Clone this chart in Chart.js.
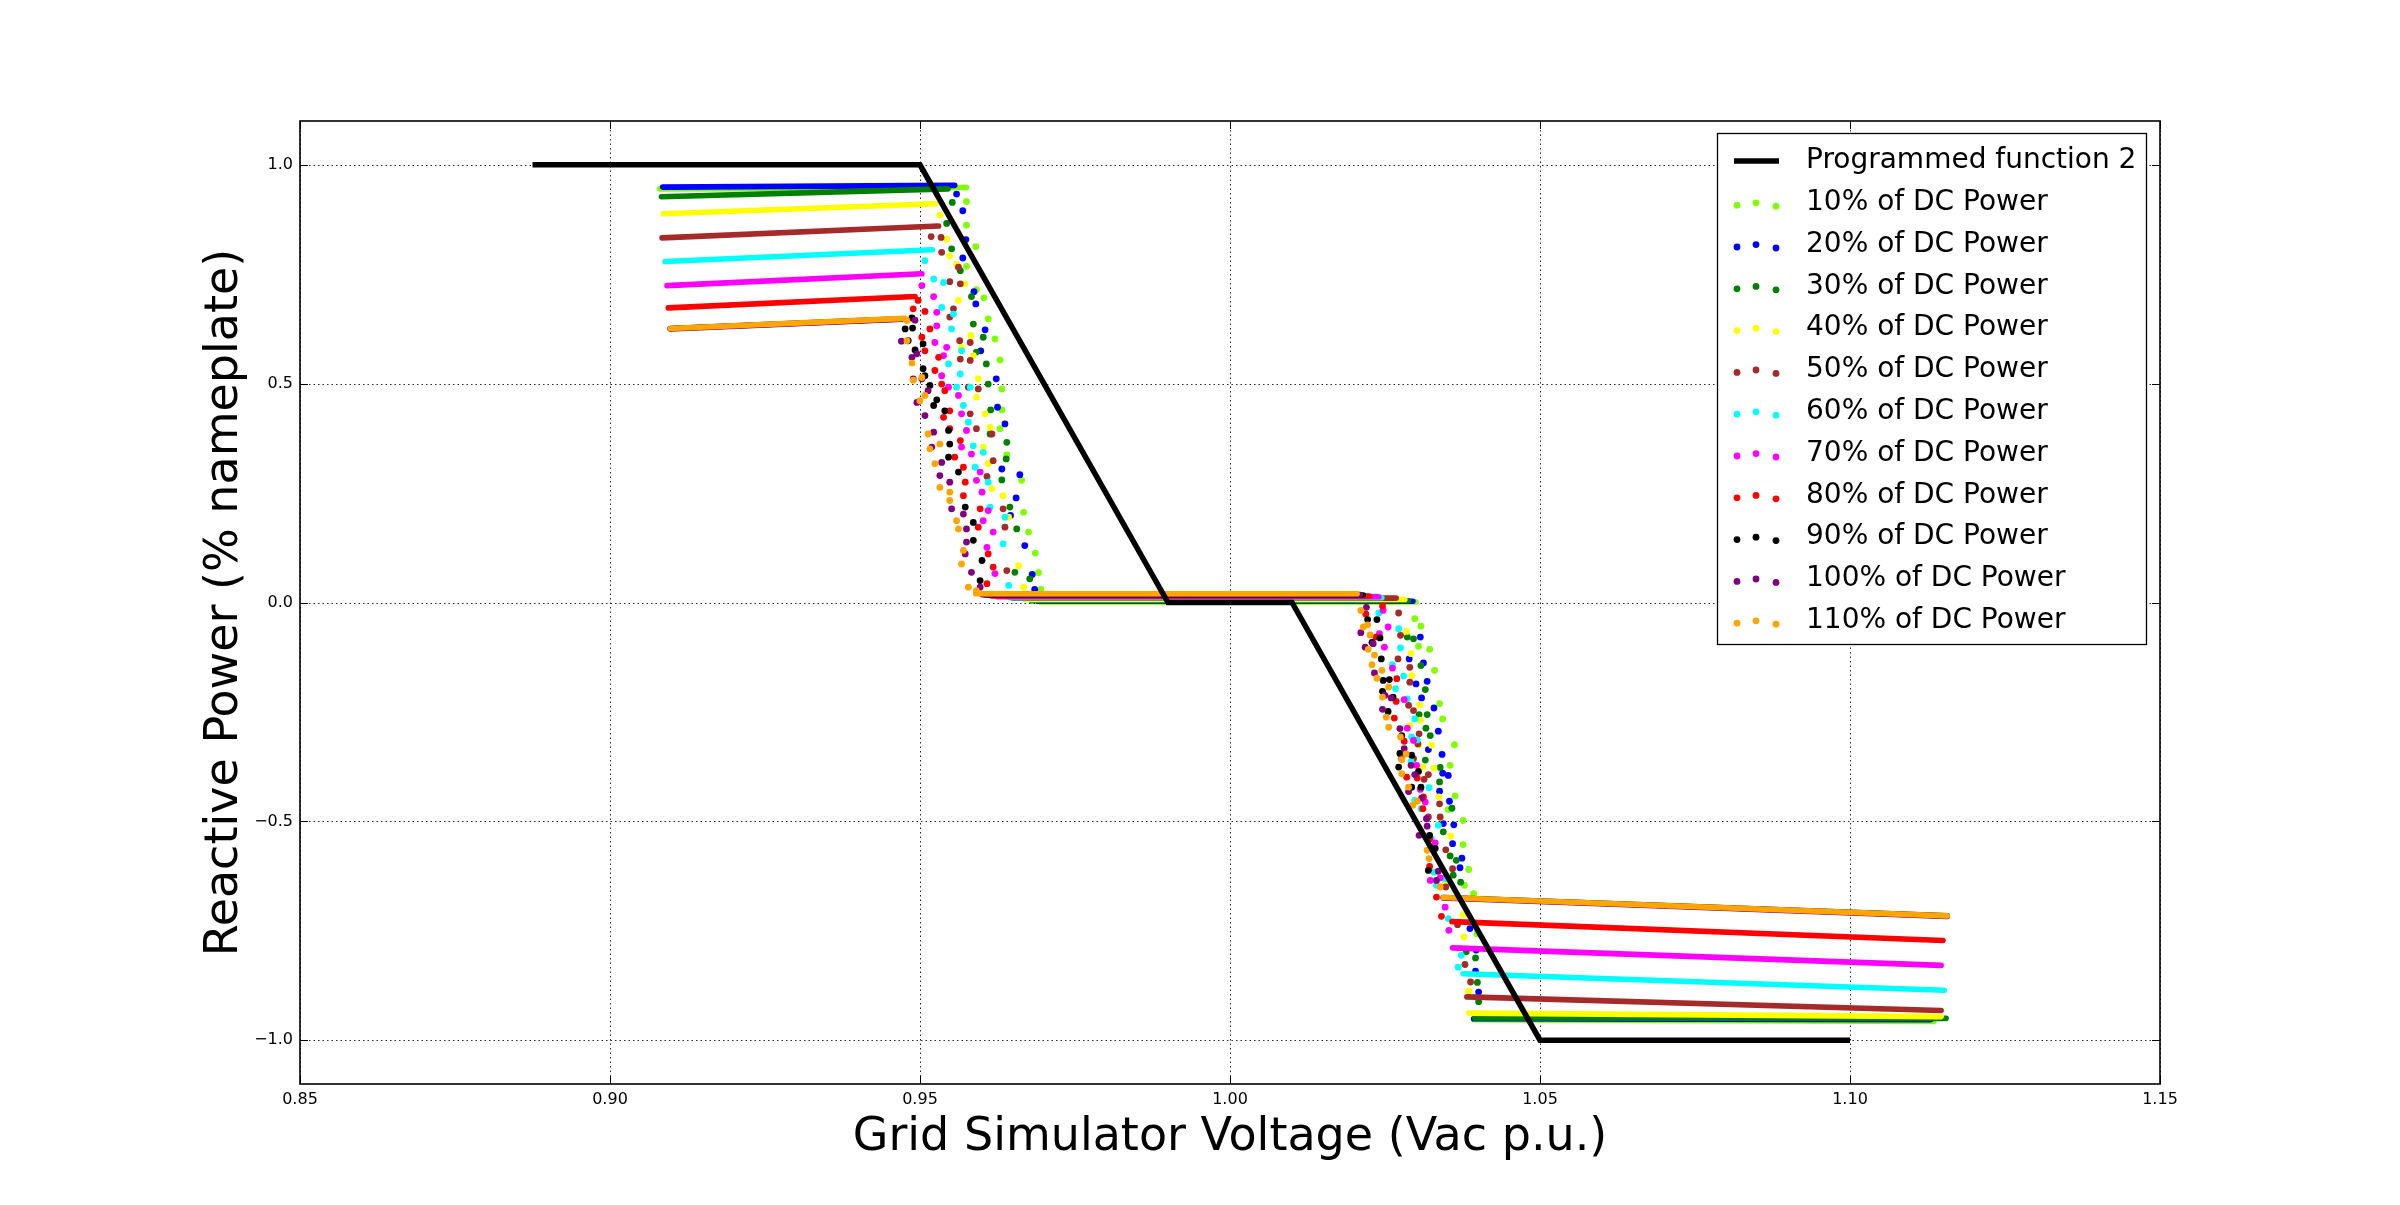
<!DOCTYPE html>
<html>
<head>
<meta charset="utf-8">
<script src="https://cdn.jsdelivr.net/npm/chart.js@4.4.0/dist/chart.umd.min.js"></script>
<style>
html, body { margin: 0; padding: 0; background: #fff; }
canvas { display: block; }
</style>
</head>
<body>
<canvas id="qvChart" width="2400" height="1205" style="width:2400px;height:1205px"></canvas>
<script>
// tick labels
const xTicks = [0.85, 0.90, 0.95, 1.00, 1.05, 1.10, 1.15];
const yTicks = [-1.0, -0.5, 0.0, 0.5, 1.0];

// programmed volt-var function
const progV = [0.8875, 0.95, 0.99, 1.01, 1.05, 1.10];
const progQ = [1.0, 1.0, 0.0, 0.0, -1.0, -1.0];

const seriesNames = ['10% of DC Power', '20% of DC Power', '30% of DC Power', '40% of DC Power',
  '50% of DC Power', '60% of DC Power', '70% of DC Power', '80% of DC Power',
  '90% of DC Power', '100% of DC Power', '110% of DC Power'];
const seriesColors = ['#7fff00', '#0000ff', '#008000', '#ffff00', '#a52a2a', '#00ffff',
  '#ff00ff', '#ff0000', '#000000', '#800080', '#ffa500'];

// dense plateau runs [V, Q] (null = break between runs)
const flat10 = [[0.9080,0.945],[0.9575,0.948],null,[0.9695,0.001],[1.0300,0.001],null,[1.0393,-0.953],[1.1135,-0.957]];
const flat20 = [[0.9085,0.949],[0.9556,0.953],null,[0.9690,0.003],[1.0295,0.003],null,[1.0393,-0.951],[1.1130,-0.953]];
const flat30 = [[0.9083,0.927],[0.9545,0.945],null,[0.9680,0.004],[1.0288,0.004],null,[1.0395,-0.949],[1.1155,-0.950]];
const flat40 = [[0.9086,0.888],[0.9525,0.911],null,[0.9670,0.007],[1.0282,0.007],null,[1.0385,-0.938],[1.1147,-0.946]];
const flat50 = [[0.9084,0.833],[0.9530,0.860],null,[0.9650,0.010],[1.0268,0.010],null,[1.0382,-0.901],[1.1147,-0.932]];
const flat60 = [[0.9089,0.779],[0.9520,0.806],null,[0.9645,0.011],[1.0245,0.011],null,[1.0376,-0.848],[1.1152,-0.886]];
const flat70 = [[0.9092,0.724],[0.9503,0.751],null,[0.9625,0.013],[1.0240,0.013],null,[1.0359,-0.789],[1.1147,-0.829]];
const flat80 = [[0.9094,0.673],[0.9492,0.699],null,[0.9615,0.015],[1.0225,0.015],null,[1.0358,-0.729],[1.1150,-0.772]];
const flat90 = [[0.9097,0.626],[0.9470,0.648],null,[0.9605,0.017],[1.0215,0.017],null,[1.0344,-0.674],[1.1157,-0.716]];
const flat100 = [[0.9097,0.625],[0.9470,0.647],null,[0.9600,0.018],[1.0210,0.018],null,[1.0344,-0.675],[1.1157,-0.717]];
const flat110 = [[0.9097,0.626],[0.9476,0.649],null,[0.9590,0.020],[1.0205,0.020],null,[1.0344,-0.674],[1.1157,-0.716]];

// scattered samples in the two transitions [V, Q]
const step10 = [[0.9575,0.916],[0.9575,0.862],[0.9590,0.813],[0.9575,0.768],[0.9591,0.715],[0.9603,0.696],[0.9610,0.648],[0.9621,0.602],[0.9629,0.554],[0.9632,0.488],[0.9632,0.440],[0.9629,0.397],[0.9640,0.337],[0.9664,0.279],[0.9667,0.206],[0.9675,0.161],[0.9686,0.113],[0.9691,0.068],[0.9695,0.030],
  [1.0298,-0.037],[1.0308,-0.054],[1.0304,-0.100],[1.0322,-0.107],[1.0330,-0.155],[1.0338,-0.231],[1.0343,-0.266],[1.0362,-0.325],[1.0355,-0.372],[1.0363,-0.442],[1.0352,-0.473],[1.0376,-0.498],[1.0376,-0.553],[1.0385,-0.610],[1.0378,-0.646],[1.0393,-0.665],[1.0398,-0.757]];
const step20 = [[0.9559,0.933],[0.9569,0.895],[0.9574,0.829],[0.9569,0.787],[0.9587,0.710],[0.9590,0.682],[0.9605,0.623],[0.9598,0.575],[0.9623,0.511],[0.9625,0.446],[0.9637,0.408],[0.9632,0.305],[0.9661,0.292],[0.9655,0.239],[0.9646,0.199],[0.9669,0.130],[0.9681,0.064],[0.9685,0.030],
  [1.0307,-0.079],[1.0289,-0.129],[1.0312,-0.138],[1.0300,-0.186],[1.0318,-0.180],[1.0309,-0.218],[1.0329,-0.241],[1.0336,-0.294],[1.0320,-0.336],[1.0342,-0.347],[1.0343,-0.390],[1.0352,-0.395],[1.0338,-0.431],[1.0354,-0.454],[1.0344,-0.505],[1.0361,-0.508],[1.0359,-0.551],[1.0374,-0.584],[1.0371,-0.606],[1.0387,-0.745],[1.0397,-0.794],[1.0396,-0.842],[1.0401,-0.890]];
const step30 = [[0.9552,0.914],[0.9543,0.866],[0.9551,0.808],[0.9565,0.758],[0.9583,0.699],[0.9586,0.636],[0.9602,0.606],[0.9591,0.572],[0.9607,0.545],[0.9610,0.499],[0.9614,0.440],[0.9613,0.385],[0.9640,0.366],[0.9639,0.328],[0.9632,0.280],[0.9645,0.218],[0.9656,0.168],[0.9653,0.069],[0.9677,0.054],
  [1.0286,-0.079],[1.0296,-0.083],[1.0308,-0.144],[1.0315,-0.199],[1.0305,-0.256],[1.0318,-0.256],[1.0316,-0.287],[1.0323,-0.304],[1.0315,-0.360],[1.0339,-0.377],[1.0338,-0.410],[1.0358,-0.470],[1.0344,-0.524],[1.0355,-0.579],[1.0365,-0.589],[1.0360,-0.623],[1.0372,-0.639],[1.0381,-0.798],[1.0396,-0.812],[1.0399,-0.868],[1.0401,-0.912]];
const step40 = [[0.9532,0.885],[0.9543,0.830],[0.9548,0.792],[0.9559,0.773],[0.9572,0.728],[0.9562,0.690],[0.9582,0.610],[0.9567,0.583],[0.9586,0.564],[0.9594,0.511],[0.9591,0.469],[0.9605,0.431],[0.9613,0.400],[0.9602,0.355],[0.9610,0.317],[0.9616,0.260],[0.9634,0.244],[0.9643,0.195],[0.9659,0.084],[0.9667,0.035],
  [1.0285,-0.066],[1.0292,-0.117],[1.0293,-0.167],[1.0306,-0.234],[1.0307,-0.269],[1.0290,-0.281],[1.0304,-0.325],[1.0325,-0.326],[1.0311,-0.376],[1.0329,-0.378],[1.0337,-0.444],[1.0339,-0.491],[1.0356,-0.534],[1.0346,-0.645],[1.0376,-0.713],[1.0377,-0.764],[1.0385,-0.888]];
const step50 = [[0.9518,0.836],[0.9534,0.834],[0.9535,0.800],[0.9562,0.766],[0.9548,0.733],[0.9565,0.728],[0.9554,0.671],[0.9548,0.652],[0.9564,0.598],[0.9581,0.594],[0.9565,0.556],[0.9581,0.553],[0.9578,0.492],[0.9594,0.488],[0.9581,0.431],[0.9591,0.397],[0.9616,0.385],[0.9618,0.324],[0.9608,0.288],[0.9634,0.214],[0.9637,0.172],[0.9640,0.073],
  [1.0272,-0.024],[1.0275,-0.075],[1.0271,-0.129],[1.0290,-0.148],[1.0290,-0.182],[1.0288,-0.235],[1.0296,-0.247],[1.0305,-0.300],[1.0303,-0.323],[1.0296,-0.357],[1.0320,-0.393],[1.0313,-0.404],[1.0338,-0.460],[1.0320,-0.490],[1.0339,-0.490],[1.0348,-0.565],[1.0359,-0.608],[1.0348,-0.650],[1.0367,-0.736],[1.0379,-0.827],[1.0388,-0.867]];
const step60 = [[0.9508,0.781],[0.9522,0.739],[0.9538,0.731],[0.9535,0.674],[0.9554,0.659],[0.9551,0.625],[0.9567,0.575],[0.9546,0.545],[0.9565,0.522],[0.9559,0.492],[0.9581,0.492],[0.9570,0.450],[0.9578,0.412],[0.9586,0.358],[0.9602,0.343],[0.9589,0.309],[0.9610,0.275],[0.9613,0.218],[0.9637,0.195],[0.9634,0.134],[0.9643,0.039],
  [1.0240,-0.024],[1.0272,-0.060],[1.0275,-0.104],[1.0262,-0.142],[1.0280,-0.168],[1.0267,-0.197],[1.0286,-0.220],[1.0298,-0.266],[1.0293,-0.307],[1.0302,-0.314],[1.0292,-0.363],[1.0321,-0.423],[1.0298,-0.452],[1.0308,-0.471],[1.0336,-0.509],[1.0325,-0.540],[1.0329,-0.616],[1.0347,-0.631],[1.0333,-0.646],[1.0352,-0.722],[1.0373,-0.806],[1.0368,-0.833]];
const step70 = [[0.9503,0.724],[0.9522,0.699],[0.9527,0.663],[0.9527,0.632],[0.9524,0.594],[0.9543,0.583],[0.9538,0.564],[0.9535,0.518],[0.9546,0.492],[0.9562,0.473],[0.9567,0.431],[0.9575,0.393],[0.9567,0.355],[0.9583,0.339],[0.9597,0.298],[0.9591,0.279],[0.9600,0.252],[0.9610,0.210],[0.9602,0.187],[0.9618,0.161],[0.9608,0.126],[0.9621,0.066],
  [1.0247,-0.018],[1.0255,-0.056],[1.0241,-0.071],[1.0249,-0.102],[1.0262,-0.150],[1.0281,-0.222],[1.0286,-0.287],[1.0296,-0.315],[1.0301,-0.372],[1.0307,-0.427],[1.0315,-0.456],[1.0317,-0.494],[1.0331,-0.549],[1.0339,-0.629],[1.0323,-0.635],[1.0347,-0.696],[1.0353,-0.749]];
const step80 = [[0.9497,0.690],[0.9489,0.671],[0.9508,0.665],[0.9516,0.625],[0.9503,0.606],[0.9508,0.575],[0.9530,0.560],[0.9524,0.530],[0.9535,0.499],[0.9540,0.484],[0.9548,0.438],[0.9538,0.423],[0.9548,0.397],[0.9565,0.370],[0.9556,0.332],[0.9570,0.309],[0.9573,0.275],[0.9570,0.244],[0.9597,0.214],[0.9594,0.172],[0.9610,0.111],[0.9618,0.081],[0.9608,0.043],
  [1.0246,-0.008],[1.0219,-0.026],[1.0235,-0.079],[1.0269,-0.174],[1.0268,-0.226],[1.0265,-0.264],[1.0281,-0.317],[1.0285,-0.399],[1.0302,-0.401],[1.0312,-0.444],[1.0311,-0.471],[1.0322,-0.540],[1.0322,-0.603],[1.0333,-0.673],[1.0341,-0.717]];
const step90 = [[0.9487,0.650],[0.9476,0.625],[0.9488,0.627],[0.9481,0.598],[0.9492,0.577],[0.9505,0.591],[0.9505,0.534],[0.9508,0.518],[0.9516,0.496],[0.9527,0.463],[0.9522,0.450],[0.9540,0.438],[0.9546,0.393],[0.9548,0.362],[0.9546,0.332],[0.9562,0.298],[0.9573,0.218],[0.9586,0.183],[0.9586,0.142],[0.9600,0.096],[0.9597,0.050],
  [1.0222,-0.039],[1.0237,-0.039],[1.0242,-0.081],[1.0229,-0.091],[1.0244,-0.129],[1.0247,-0.178],[1.0257,-0.176],[1.0246,-0.203],[1.0263,-0.216],[1.0255,-0.249],[1.0277,-0.304],[1.0274,-0.345],[1.0293,-0.349],[1.0272,-0.376],[1.0304,-0.386],[1.0308,-0.422],[1.0293,-0.422],[1.0322,-0.532],[1.0331,-0.562],[1.0320,-0.612]];
const step100 = [[0.9492,0.645],[0.9470,0.597],[0.9487,0.560],[0.9495,0.568],[0.9489,0.511],[0.9503,0.511],[0.9513,0.484],[0.9495,0.457],[0.9508,0.427],[0.9522,0.389],[0.9519,0.355],[0.9535,0.320],[0.9532,0.290],[0.9548,0.275],[0.9551,0.214],[0.9570,0.202],[0.9575,0.168],[0.9575,0.138],[0.9573,0.111],[0.9583,0.069],[0.9597,0.035],
  [1.0220,-0.011],[1.0211,-0.069],[1.0218,-0.102],[1.0231,-0.094],[1.0233,-0.161],[1.0250,-0.212],[1.0260,-0.218],[1.0246,-0.244],[1.0274,-0.288],[1.0281,-0.334],[1.0277,-0.357],[1.0292,-0.372],[1.0298,-0.393],[1.0288,-0.432],[1.0309,-0.447],[1.0317,-0.494],[1.0318,-0.511],[1.0305,-0.532],[1.0336,-0.614],[1.0333,-0.635]];
const step110 = [[0.9479,0.644],[0.9479,0.598],[0.9487,0.547],[0.9489,0.508],[0.9503,0.514],[0.9508,0.473],[0.9500,0.461],[0.9513,0.385],[0.9516,0.351],[0.9532,0.362],[0.9524,0.317],[0.9532,0.263],[0.9548,0.252],[0.9548,0.233],[0.9559,0.187],[0.9562,0.168],[0.9570,0.119],[0.9567,0.088],[0.9578,0.035],[0.9591,0.027],
  [1.0211,-0.018],[1.0215,-0.056],[1.0222,-0.051],[1.0226,-0.074],[1.0223,-0.107],[1.0233,-0.120],[1.0229,-0.142],[1.0245,-0.155],[1.0237,-0.173],[1.0256,-0.193],[1.0246,-0.216],[1.0252,-0.262],[1.0256,-0.285],[1.0275,-0.307],[1.0284,-0.346],[1.0277,-0.359],[1.0277,-0.391],[1.0288,-0.422],[1.0302,-0.454],[1.0295,-0.463],[1.0318,-0.566],[1.0321,-0.585],[1.0339,-0.650]];

const allFlat = [flat10, flat20, flat30, flat40, flat50, flat60, flat70, flat80, flat90, flat100, flat110];
const allStep = [step10, step20, step30, step40, step50, step60, step70, step80, step90, step100, step110];

const FONT = "'DejaVu Sans', 'Liberation Sans', sans-serif";
const DOT_R = 3.4;

function toPts(arr) {
    return arr.map(p => p ? {x: p[0], y: p[1]} : {x: NaN, y: NaN});
}

var datasets = [];
datasets.push({
    label: 'Programmed function 2',
    data: progV.map((v, i) => ({x: v, y: progQ[i]})),
    showLine: true,
    borderColor: '#000',
    borderWidth: 5.5,
    borderCapStyle: 'butt',
    borderJoinStyle: 'miter',
    pointRadius: 0,
    order: 0
});
for (var i = 0; i < seriesNames.length; i++) {
    var base = (seriesNames.length - i) * 2;
    datasets.push({
        label: seriesNames[i] + ' runs',
        data: toPts(allFlat[i]),
        showLine: true,
        spanGaps: false,
        borderColor: seriesColors[i],
        borderWidth: 5.6,
        borderCapStyle: 'round',
        pointRadius: 0,
        order: base + 1
    });
    datasets.push({
        label: seriesNames[i],
        data: toPts(allStep[i]),
        backgroundColor: seriesColors[i],
        borderWidth: 0,
        pointRadius: DOT_R,
        pointHoverRadius: DOT_R,
        order: base
    });
}

function fmt(v, digits) {
    return v.toFixed(digits).replace('-', '\u2212');
}

// matplotlib-like frame, dotted grid, inward ticks and boxed legend
const mplLook = {
    id: 'mplLook',
    beforeDatasetsDraw(chart) {
        const ctx = chart.ctx, ca = chart.chartArea;
        const xs = chart.scales.x, ys = chart.scales.y;
        ctx.save();
        ctx.strokeStyle = 'rgba(0,0,0,0.85)';
        ctx.lineWidth = 1;
        ctx.setLineDash([1.5, 3]);
        xTicks.forEach(t => {
            var px = Math.round(xs.getPixelForValue(t)) + 0.5;
            ctx.beginPath(); ctx.moveTo(px, ca.top); ctx.lineTo(px, ca.bottom); ctx.stroke();
        });
        yTicks.forEach(t => {
            var py = Math.round(ys.getPixelForValue(t)) + 0.5;
            ctx.beginPath(); ctx.moveTo(ca.left, py); ctx.lineTo(ca.right, py); ctx.stroke();
        });
        ctx.restore();
    },
    afterDatasetsDraw(chart) {
        const ctx = chart.ctx, ca = chart.chartArea;
        const xs = chart.scales.x, ys = chart.scales.y;
        ctx.save();
        ctx.strokeStyle = '#000';
        ctx.lineWidth = 1;
        ctx.setLineDash([]);
        xTicks.forEach(t => {
            var px = Math.round(xs.getPixelForValue(t)) + 0.5;
            ctx.beginPath();
            ctx.moveTo(px, ca.bottom); ctx.lineTo(px, ca.bottom - 8);
            ctx.moveTo(px, ca.top); ctx.lineTo(px, ca.top + 8);
            ctx.stroke();
        });
        yTicks.forEach(t => {
            var py = Math.round(ys.getPixelForValue(t)) + 0.5;
            ctx.beginPath();
            ctx.moveTo(ca.left, py); ctx.lineTo(ca.left + 8, py);
            ctx.moveTo(ca.right, py); ctx.lineTo(ca.right - 8, py);
            ctx.stroke();
        });
        ctx.lineWidth = 1.6;
        ctx.strokeRect(ca.left, ca.top, ca.right - ca.left, ca.bottom - ca.top);

        // legend box
        var bx = ca.right - 443, by = ca.top + 12, bw = 429, bh = 511;
        ctx.fillStyle = '#fff';
        ctx.fillRect(bx, by, bw, bh);
        ctx.lineWidth = 1.3;
        ctx.strokeRect(bx + 0.5, by + 0.5, bw, bh);
        ctx.font = '28px ' + FONT;
        ctx.textBaseline = 'middle';
        ctx.textAlign = 'left';
        var rowY = by + 28, rowGap = 41.8, mx = bx + 17, tx = bx + 89;
        ctx.strokeStyle = '#000';
        ctx.lineWidth = 5.5;
        ctx.beginPath(); ctx.moveTo(mx, rowY); ctx.lineTo(mx + 45, rowY); ctx.stroke();
        ctx.fillStyle = '#000';
        ctx.fillText('Programmed function 2', tx, rowY);
        for (var k = 0; k < seriesNames.length; k++) {
            var ry = rowY + (k + 1) * rowGap;
            ctx.fillStyle = seriesColors[k];
            [[mx + 3, 2.4], [mx + 22, 0], [mx + 42, 3.4]].forEach(d => {
                ctx.beginPath(); ctx.arc(d[0], ry + d[1], DOT_R, 0, Math.PI * 2); ctx.fill();
            });
            ctx.fillStyle = '#000';
            ctx.fillText(seriesNames[k], tx, ry);
        }
        ctx.restore();
    }
};

var qvChart = new Chart(document.getElementById('qvChart').getContext('2d'), {
    type: 'scatter',
    data: { datasets: datasets },
    plugins: [mplLook],
    options: {
        responsive: false,
        animation: false,
        devicePixelRatio: 1,
        events: [],
        layout: { padding: { top: 121, right: 240, left: 0, bottom: 0 } },
        plugins: { legend: { display: false }, tooltip: { enabled: false } },
        scales: {
            x: {
                type: 'linear',
                min: 0.85,
                max: 1.15,
                afterBuildTicks: s => { s.ticks = xTicks.map(v => ({value: v})); },
                afterFit: s => { s.height = 121; },
                grid: { display: false, drawTicks: false },
                border: { display: false },
                ticks: {
                    padding: 6,
                    color: '#000',
                    font: { family: FONT, size: 16 },
                    maxRotation: 0,
                    callback: v => fmt(v, 2)
                },
                title: {
                    display: true,
                    text: 'Grid Simulator Voltage (Vac p.u.)',
                    color: '#000',
                    font: { family: FONT, size: 46, weight: 'normal' },
                    padding: { top: 0, bottom: 39 }
                }
            },
            y: {
                type: 'linear',
                min: -1.1,
                max: 1.1,
                afterBuildTicks: s => { s.ticks = yTicks.map(v => ({value: v})); },
                afterFit: s => { s.width = 300; },
                grid: { display: false, drawTicks: false },
                border: { display: false },
                ticks: {
                    padding: 7,
                    color: '#000',
                    font: { family: FONT, size: 16 },
                    callback: v => fmt(v, 1)
                },
                title: {
                    display: true,
                    text: 'Reactive Power (% nameplate)',
                    color: '#000',
                    font: { family: FONT, size: 46, weight: 'normal' },
                    padding: { top: 197, bottom: 0 }
                }
            }
        }
    }
});
</script>
</body>
</html>
